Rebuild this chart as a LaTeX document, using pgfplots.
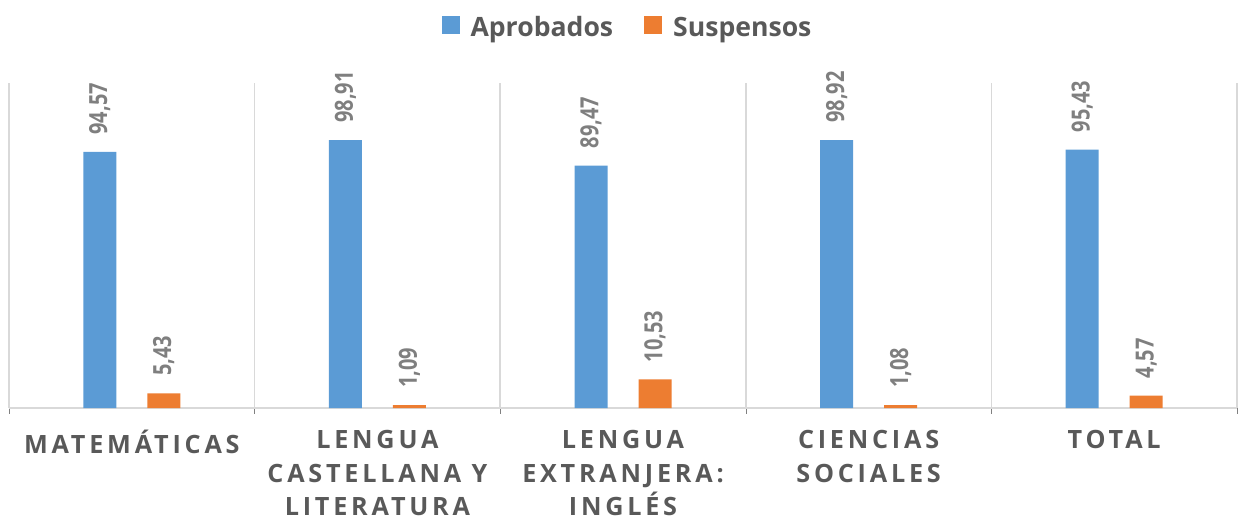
\documentclass[border=0pt]{standalone}
\usepackage{fontspec}
\usepackage{pgfplots}
\pgfplotsset{compat=1.18}
\setmainfont{Open Sans}
\newfontfamily\catfont{Open Sans}[LetterSpace=15]
\newfontfamily\datafont{Open Sans}[FakeStretch=0.8]
\definecolor{cblue}{HTML}{5B9BD5}
\definecolor{corange}{HTML}{ED7D31}
\definecolor{txt}{HTML}{595959}
\definecolor{lbl}{HTML}{7F7F7F}
\definecolor{grd}{HTML}{D9D9D9}
\begin{document}
\begin{tikzpicture}
\begin{axis}[
  scale only axis,
  width=614pt, height=162.5pt,
  xmin=-0.5, xmax=4.5, ymin=0, ymax=120,
  ybar=15.5pt, bar width=16.5pt,
  axis x line*=bottom, axis y line=none,
  x axis line style={grd, line width=0.8pt},
  xtick={0,1,2,3,4},
  xticklabels={MATEMÁTICAS, LENGUA\\CASTELLANA Y\\LITERATURA, LENGUA\\EXTRANJERA:\\INGLÉS, CIENCIAS\\SOCIALES, TOTAL},
  xticklabel style={align=center, font=\catfont\bfseries\fontsize{12.6}{16.9}\selectfont, text=txt, yshift=-7.5pt},
  major tick length=0pt,
  minor xtick={-0.5,0.5,1.5,2.5,3.5,4.5},
  xminorgrids, minor grid style={grd, line width=0.8pt},
  ytick=\empty,
  /pgf/number format/assume math mode=true,
  /pgf/number format/.cd, fixed, fixed zerofill, precision=2, use comma, /pgfplots/.cd,
  nodes near coords,
  every node near coord/.append style={rotate=90, anchor=west, inner xsep=8.5pt, inner ysep=0pt, font=\datafont\bfseries\fontsize{12.5}{14}\selectfont, text=lbl},
  legend columns=2,
  legend style={at={(0.5,1)}, anchor=center, yshift=27.5pt, xshift=2.75pt, draw=none, fill=none,
    font=\bfseries\fontsize{13.3}{16}\selectfont, text=txt,
    /tikz/every even column/.append style={column sep=13.5pt}},
  legend image code/.code={\fill[#1] (0pt,-3pt) rectangle (9pt,6pt); \path (12.5pt,0pt);},
]
\addplot[fill=cblue, draw=none] coordinates {(0,94.57) (1,98.91) (2,89.47) (3,98.92) (4,95.43)};
\addplot[fill=corange, draw=none] coordinates {(0,5.43) (1,1.09) (2,10.53) (3,1.08) (4,4.57)};
\legend{Aprobados, Suspensos}
\coordinate (bl) at (rel axis cs:0,0);
\coordinate (tr) at (rel axis cs:1,1);
\end{axis}
\pgfresetboundingbox
\path[use as bounding box] ([xshift=-4.5pt, yshift=-56.5pt]bl) rectangle ([xshift=4.5pt, yshift=41.5pt]tr);
\end{tikzpicture}
\end{document}
